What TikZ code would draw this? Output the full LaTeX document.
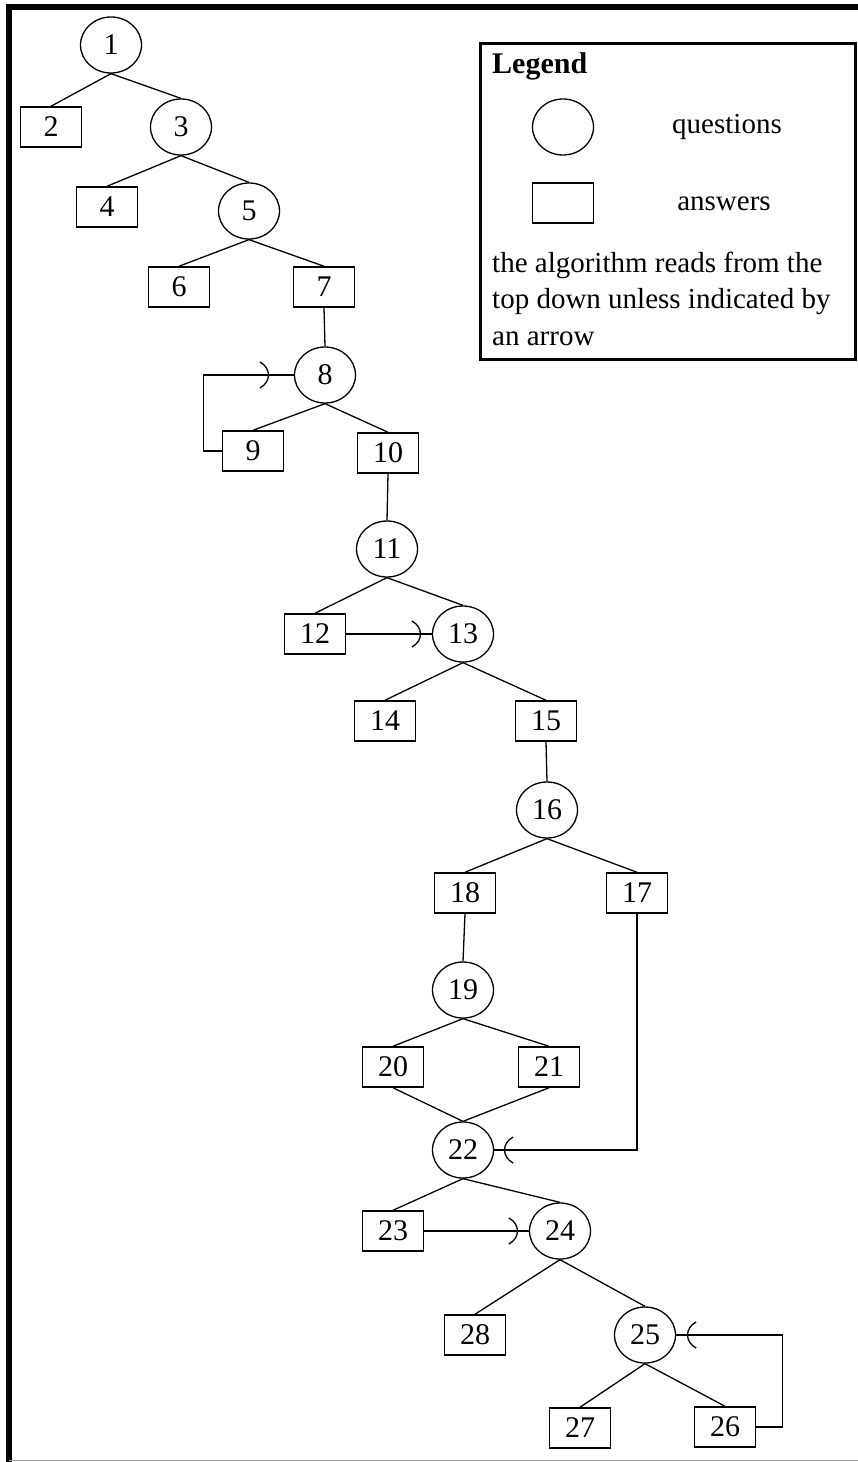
\documentclass[tikz,border=0pt]{standalone}
\usepackage{fontspec}
\setmainfont{Liberation Serif}
\usetikzlibrary{shapes.geometric,decorations.markings}
\begin{document}
\begin{tikzpicture}[x=1pt,y=-1pt,
  qnode/.style={ellipse, draw, line width=1.3pt, minimum width=61pt, minimum height=56pt, inner sep=0pt, font=\fontsize{30}{30}\selectfont},
  anode/.style={rectangle, draw, line width=1.5pt, minimum width=61pt, minimum height=40pt, inner sep=0pt, font=\fontsize{30}{30}\selectfont},
  conn/.style={line width=1.3pt},
  tipat/.style={postaction={decorate,decoration={markings,mark=at position #1 with {\draw[line width=1.3pt] (-9pt,13pt) .. controls (2.5pt,7pt) and (2.5pt,-7pt) .. (-9pt,-13pt);}}}},
  legtext/.style={anchor=base west, inner sep=0pt, font=\fontsize{29}{29}\selectfont}
]
\useasboundingbox (0,0) rectangle (858,1462);
% frame
\draw[line width=6pt] (9,1462) -- (9,7) -- (858,7);
\draw[black!35, line width=1.5pt] (9,1460.5) -- (858,1460.5);

% nodes
\node[qnode] (n1) at (111,45) {1};
\node[anode] (n2) at (51,127) {2};
\node[qnode] (n3) at (181,127) {3};
\node[anode] (n4) at (107,207) {4};
\node[qnode] (n5) at (249,211) {5};
\node[anode] (n6) at (179,287) {6};
\node[anode] (n7) at (324,287) {7};
\node[qnode] (n8) at (325,375) {8};
\node[anode] (n9) at (253,451) {9};
\node[anode] (n10) at (388,453) {10};
\node[qnode] (n11) at (387,549) {11};
\node[anode] (n12) at (315,634) {12};
\node[qnode] (n13) at (463,634) {13};
\node[anode] (n14) at (385,721) {14};
\node[anode] (n15) at (546,721) {15};
\node[qnode] (n16) at (547,810) {16};
\node[anode] (n18) at (465,893) {18};
\node[anode] (n17) at (637,893) {17};
\node[qnode] (n19) at (463,990) {19};
\node[anode] (n20) at (393,1067) {20};
\node[anode] (n21) at (549,1067) {21};
\node[qnode] (n22) at (463,1150) {22};
\node[anode] (n23) at (393,1231) {23};
\node[qnode] (n24) at (560,1231) {24};
\node[anode] (n28) at (475,1335) {28};
\node[qnode] (n25) at (645,1335) {25};
\node[anode] (n27) at (580,1428) {27};
\node[anode] (n26) at (725,1427) {26};

% tree edges
\foreach \p/\c in {n1/n2,n1/n3,n3/n4,n3/n5,n5/n6,n5/n7,n7/n8,n8/n9,n8/n10,n10/n11,
  n11/n12,n11/n13,n13/n14,n13/n15,n15/n16,n16/n18,n16/n17,n18/n19,n19/n20,n19/n21,
  n20/n22,n21/n22,n22/n23,n22/n24,n24/n28,n24/n25,n25/n27,n25/n26}
  \draw[conn] (\p.south) -- (\c.north);

% arrows
\draw[conn, tipat=-25pt] (n9.west) -- ++(-18,0) |- (n8.west);
\draw[conn, tipat=-11pt] (n12.east) -- (n13.west);
\draw[conn, tipat=-10pt] (n17.south) |- (n22.east);
\draw[conn, tipat=-11pt] (n23.east) -- (n24.west);
\draw[conn, tipat=-11pt] (n26.east) -- ++(26,0) |- (n25.east);

% legend
\node[draw, line width=3pt, minimum width=374.5pt, minimum height=316pt, inner sep=0pt] (legend) at (667.75,201.5) {};
\node[legtext, font=\fontsize{30}{30}\selectfont\bfseries] (legtitle) at (492,73) {Legend};
\node[qnode] (legq) at (563,127) {};
\node[legtext, anchor=base] (legqt) at (727,133) {questions};
\node[anode] (lega) at (563,203) {};
\node[legtext, anchor=base] (legat) at (724,210) {answers};
\node[legtext] (legl1) at (492,272) {the algorithm reads from the};
\node[legtext] (legl2) at (492,308) {top down unless indicated by};
\node[legtext] (legl3) at (492,345) {an arrow};
\end{tikzpicture}
\end{document}
